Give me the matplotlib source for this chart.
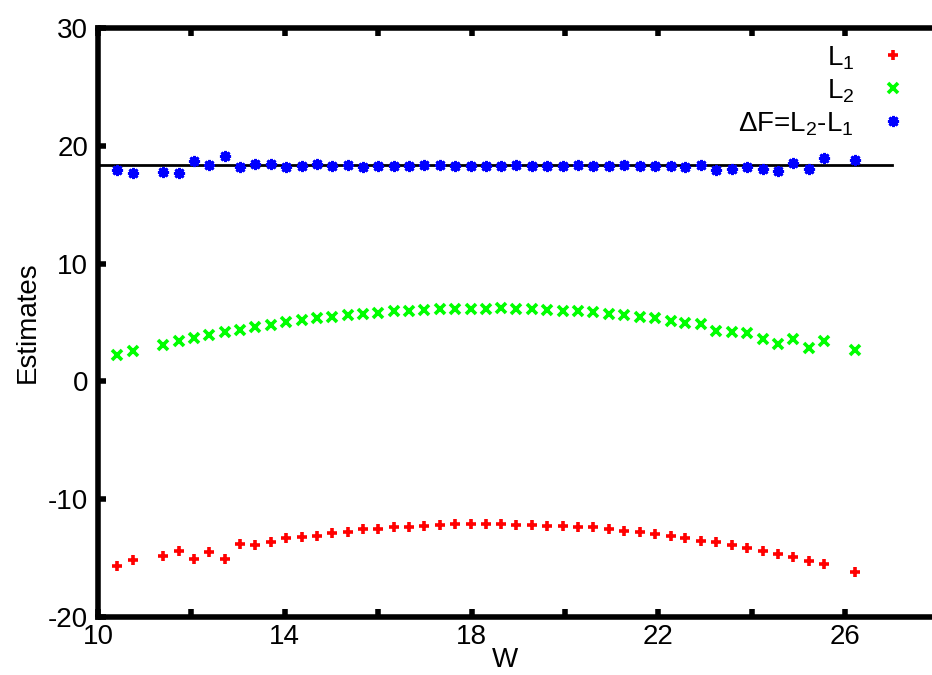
import matplotlib
matplotlib.use("Agg")
import matplotlib.pyplot as plt
from matplotlib.ticker import MultipleLocator, FuncFormatter

plt.rcParams['font.family'] = ['Liberation Sans', 'DejaVu Sans']
plt.rcParams['mathtext.fontset'] = 'custom'
plt.rcParams['mathtext.rm'] = 'Liberation Sans'
plt.rcParams['mathtext.it'] = 'Liberation Sans'
plt.rcParams['axes.unicode_minus'] = False

# W values (two gaps in the scan)
W = [10.41, 10.74, 11.40, 11.73, 12.06, 12.38, 12.71, 13.04, 13.37, 13.70,
     14.03, 14.36, 14.69, 15.02, 15.35, 15.67, 16.00, 16.33, 16.66, 16.99,
     17.32, 17.65, 17.98, 18.31, 18.64, 18.96, 19.29, 19.62, 19.95, 20.28,
     20.61, 20.94, 21.27, 21.60, 21.93, 22.26, 22.58, 22.91, 23.24, 23.57,
     23.90, 24.23, 24.56, 24.89, 25.22, 25.55, 26.20]

L1 = [-15.68, -15.17, -14.81, -14.38, -15.12, -14.47, -15.06, -13.84, -13.90, -13.64,
      -13.28, -13.22, -13.11, -12.91, -12.77, -12.57, -12.54, -12.40, -12.34, -12.26,
      -12.17, -12.12, -12.14, -12.09, -12.09, -12.20, -12.17, -12.26, -12.26, -12.37,
      -12.40, -12.54, -12.68, -12.82, -12.94, -13.11, -13.28, -13.53, -13.67, -13.93,
      -14.15, -14.41, -14.66, -14.94, -15.26, -15.51, -16.19]

L2 = [2.27, 2.56, 3.09, 3.43, 3.66, 3.94, 4.20, 4.39, 4.60, 4.82,
      5.05, 5.19, 5.36, 5.50, 5.62, 5.75, 5.84, 5.96, 6.01, 6.07,
      6.15, 6.18, 6.18, 6.18, 6.19, 6.18, 6.13, 6.07, 6.01, 5.96,
      5.90, 5.75, 5.64, 5.50, 5.36, 5.16, 4.94, 4.85, 4.26, 4.17,
      4.09, 3.60, 3.20, 3.60, 2.84, 3.43, 2.64]

dF = [17.96, 17.68, 17.82, 17.73, 18.73, 18.39, 19.18, 18.19, 18.47, 18.44,
      18.24, 18.33, 18.44, 18.33, 18.36, 18.22, 18.33, 18.33, 18.33, 18.36,
      18.36, 18.33, 18.33, 18.27, 18.33, 18.36, 18.33, 18.33, 18.33, 18.36,
      18.33, 18.27, 18.36, 18.33, 18.33, 18.27, 18.19, 18.39, 17.96, 18.07,
      18.24, 18.02, 17.90, 18.53, 18.07, 18.95, 18.81]

line_x = [10, 27]
line_y = [18.4, 18.4]

fig = plt.figure(figsize=(9.32, 6.75), dpi=100)
ax = fig.add_axes([98 / 932, 58.3 / 675, 840.6 / 932, 588.4 / 675])

ax.plot(line_x, line_y, color='black', lw=2, zorder=1)
ax.plot(W, L1, ls='none', marker='+', ms=7.5, mew=2.6, color='#ff0000', label='L$_1$')
ax.plot(W, L2, ls='none', marker='x', ms=6.5, mew=2.6, color='#00ff00', label='L$_2$')
ax.plot(W, dF, ls='none', marker=(8, 2, 0), ms=8, mew=2.0, color='#0000ff',
        label='ΔF=L$_2$-L$_1$')

ax.set_xlim(10, 28)
ax.set_ylim(-20, 30)
ax.xaxis.set_major_locator(MultipleLocator(2))
ax.xaxis.set_major_formatter(FuncFormatter(lambda v, p: '%d' % v if int(round(v)) % 4 == 2 else ''))
ax.yaxis.set_major_locator(MultipleLocator(10))

for s in ax.spines.values():
    s.set_linewidth(4)
ax.tick_params(direction='in', length=6, width=4, labelsize=20, pad=7,
               top=True, right=False)
ax.tick_params(axis='x', pad=5)

fig.text(28 / 932, 1 - 322 / 675, 'Estimates', rotation=90, fontsize=20,
         ha='center', va='center')
fig.text(505 / 932, 1 - 660 / 675, 'W', fontsize=20, ha='center', va='center')

ax.legend(loc='upper right', bbox_to_anchor=(907 / 932, 1 - 44 / 675),
          bbox_transform=fig.transFigure, frameon=False, markerfirst=False,
          fontsize=20, handlelength=1.0, handletextpad=0.9, labelspacing=0.2,
          borderaxespad=0, borderpad=0)

fig.savefig('out.png', dpi=100)
